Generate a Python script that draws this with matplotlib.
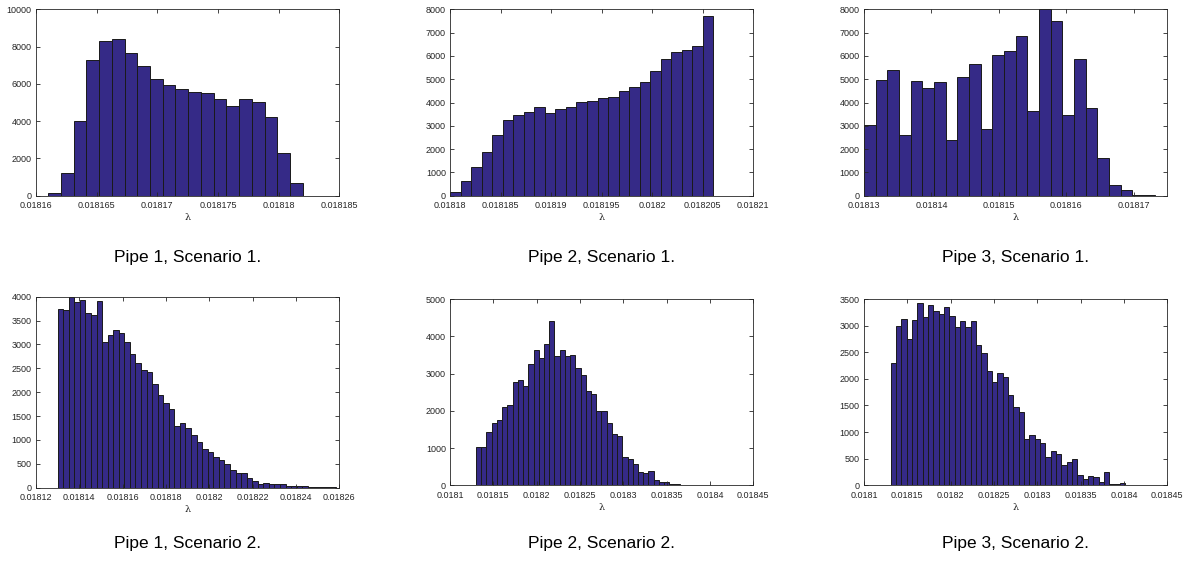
import numpy as np
import matplotlib
matplotlib.use("Agg")
import matplotlib.pyplot as plt

# ---------------- data ----------------
# Pipe 1, Scenario 1
p1s1_start = 0.018161
p1s1_width = 1.05e-6
p1s1_counts = [150, 1200, 4025, 7260, 8320, 8425, 7675, 6960, 6245, 5960,
               5705, 5545, 5510, 5170, 4795, 5190, 5010, 4205, 2310, 680]
p1s1_yticks = [0, 2000, 4000, 6000, 8000, 10000]
p1s1_xticks = [0.01816, 0.018165, 0.01817, 0.018175, 0.01818, 0.018185]
p1s1_xlabels = ["0.01816", "0.018165", "0.01817", "0.018175", "0.01818", "0.018185"]

# Pipe 2, Scenario 1
p2s1_start = 0.01818
p2s1_width = 1.042e-6
p2s1_counts = [170, 645, 1245, 1875, 2620, 3250, 3475, 3590, 3805, 3550,
               3705, 3820, 4020, 4050, 4175, 4235, 4505, 4665, 4880, 5365,
               5865, 6180, 6250, 6410, 7725]
p2s1_yticks = [0, 1000, 2000, 3000, 4000, 5000, 6000, 7000, 8000]
p2s1_xticks = [0.01818, 0.018185, 0.01819, 0.018195, 0.0182, 0.018205, 0.01821]
p2s1_xlabels = ["0.01818", "0.018185", "0.01819", "0.018195", "0.0182", "0.018205", "0.01821"]

# Pipe 3, Scenario 1
p3s1_start = 0.01813
p3s1_width = 1.73e-6
p3s1_counts = [3020, 4980, 5410, 2590, 4905, 4620, 4890, 2405, 5105, 5665,
               2845, 6050, 6225, 6840, 3635, 8000, 7510, 3475, 5865, 3760,
               1600, 445, 245, 45, 15]
p3s1_yticks = [0, 1000, 2000, 3000, 4000, 5000, 6000, 7000, 8000]
p3s1_xticks = [0.01813, 0.01814, 0.01815, 0.01816, 0.01817]
p3s1_xlabels = ["0.01813", "0.01814", "0.01815", "0.01816", "0.01817"]

# Pipe 1, Scenario 2
p1s2_start = 0.01813
p1s2_width = 2.566e-6
p1s2_counts = [3735, 3715, 4000, 3880, 3925, 3665, 3615, 3915, 3055, 3195,
               3300, 3245, 3045, 2800, 2620, 2455, 2415, 2170, 1940, 1775,
               1650, 1285, 1350, 1255, 1095, 955, 800, 745, 635, 580,
               490, 360, 300, 315, 195, 140, 85, 105, 85, 75,
               75, 40, 30, 30, 25, 15, 10, 10, 10, 10]
p1s2_yticks = [0, 500, 1000, 1500, 2000, 2500, 3000, 3500, 4000]
p1s2_xticks = [0.01812, 0.01814, 0.01816, 0.01818, 0.0182, 0.01822, 0.01824, 0.01826]
p1s2_xlabels = ["0.01812", "0.01814", "0.01816", "0.01818", "0.0182", "0.01822", "0.01824", "0.01826"]

# Pipe 2, Scenario 2
p2s2_start = 0.01813
p2s2_width = 6.03e-6
p2s2_counts = [1020, 1030, 1430, 1665, 1745, 2100, 2155, 2780, 2820, 2665,
               3265, 3640, 3415, 3785, 4410, 3470, 3630, 3470, 3490, 3150,
               2970, 2540, 2440, 1990, 1985, 1680, 1370, 1335, 760, 708,
               580, 368, 335, 372, 142, 85, 100, 48, 30, 18,
               12, 8, 6, 5, 5, 5, 5, 5, 5, 5]
p2s2_yticks = [0, 1000, 2000, 3000, 4000, 5000]
p2s2_xticks = [0.0181, 0.01815, 0.0182, 0.01825, 0.0183, 0.01835, 0.0184, 0.01845]
p2s2_xlabels = ["0.0181", "0.01815", "0.0182", "0.01825", "0.0183", "0.01835", "0.0184", "0.01845"]

# Pipe 3, Scenario 2
p3s2_start = 0.0181308
p3s2_width = 6.15e-6
p3s2_counts = [2290, 2995, 3130, 2755, 3100, 3425, 3160, 3380, 3275, 3210,
               3345, 3180, 2975, 3080, 2975, 3080, 2640, 2480, 2140, 1940,
               2115, 2030, 1695, 1470, 1385, 870, 945, 870, 795, 525,
               645, 580, 385, 430, 490, 200, 125, 168, 148, 70,
               255, 20, 20, 40, 15, 15, 5, 5, 5, 15]
p3s2_yticks = [0, 500, 1000, 1500, 2000, 2500, 3000, 3500]
p3s2_xticks = [0.0181, 0.01815, 0.0182, 0.01825, 0.0183, 0.01835, 0.0184, 0.01845]
p3s2_xlabels = ["0.0181", "0.01815", "0.0182", "0.01825", "0.0183", "0.01835", "0.0184", "0.01845"]

captions = ["Pipe 1, Scenario 1.", "Pipe 2, Scenario 1.", "Pipe 3, Scenario 1.",
            "Pipe 1, Scenario 2.", "Pipe 2, Scenario 2.", "Pipe 3, Scenario 2."]
xlabel_text = "λ"

# ---------------- drawing ----------------
BAR = "#352a87"
AX = "#262626"

fig = plt.figure(figsize=(11.95, 5.64), dpi=100)

panels = [
    dict(pos=[0.0301, 0.6530, 0.2538, 0.3305], start=p1s1_start, width=p1s1_width, counts=p1s1_counts,
         xlim=(0.01816, 0.018185), ylim=(0, 10000), yt=p1s1_yticks, xt=p1s1_xticks, xl=p1s1_xlabels),
    dict(pos=[0.3766, 0.6530, 0.2538, 0.3305], start=p2s1_start, width=p2s1_width, counts=p2s1_counts,
         xlim=(0.01818, 0.01821), ylim=(0, 8000), yt=p2s1_yticks, xt=p2s1_xticks, xl=p2s1_xlabels),
    dict(pos=[0.7230, 0.6530, 0.2538, 0.3305], start=p3s1_start, width=p3s1_width, counts=p3s1_counts,
         xlim=(0.01813, 0.018175), ylim=(0, 8000), yt=p3s1_yticks, xt=p3s1_xticks, xl=p3s1_xlabels),
    dict(pos=[0.0301, 0.1353, 0.2538, 0.3387], start=p1s2_start, width=p1s2_width, counts=p1s2_counts,
         xlim=(0.01812, 0.01826), ylim=(0, 4000), yt=p1s2_yticks, xt=p1s2_xticks, xl=p1s2_xlabels),
    dict(pos=[0.3766, 0.1395, 0.2538, 0.3303], start=p2s2_start, width=p2s2_width, counts=p2s2_counts,
         xlim=(0.0181, 0.01845), ylim=(0, 5000), yt=p2s2_yticks, xt=p2s2_xticks, xl=p2s2_xlabels),
    dict(pos=[0.7230, 0.1395, 0.2538, 0.3303], start=p3s2_start, width=p3s2_width, counts=p3s2_counts,
         xlim=(0.0181, 0.01845), ylim=(0, 3500), yt=p3s2_yticks, xt=p3s2_xticks, xl=p3s2_xlabels),
]

caption_y = [0.5426, 0.5426, 0.5426, 0.0355, 0.0355, 0.0355]

for i, p in enumerate(panels):
    ax = fig.add_axes(p["pos"])
    counts = np.array(p["counts"], dtype=float)
    lefts = p["start"] + p["width"] * np.arange(len(counts))
    ax.bar(lefts, counts, width=p["width"], align="edge", color=BAR,
           edgecolor="#1a1a1a", linewidth=0.7)
    ax.set_xlim(*p["xlim"])
    ax.set_ylim(*p["ylim"])
    ax.set_yticks(p["yt"])
    ax.set_yticklabels([str(v) for v in p["yt"]])
    ax.set_xticks(p["xt"])
    ax.set_xticklabels(p["xl"])
    ax.tick_params(direction="in", length=3, width=0.6, colors=AX,
                   labelsize=6.5, top=True, right=True)
    ax.tick_params(axis="x", pad=4)
    ax.tick_params(axis="y", pad=3)
    for lab in ax.get_xticklabels() + ax.get_yticklabels():
        lab.set_family("Liberation Sans")
    for s in ax.spines.values():
        s.set_color(AX)
        s.set_linewidth(0.6)
    ax.set_xlabel(xlabel_text, fontsize=7, color=AX, family="DejaVu Serif", labelpad=2)
    cx = p["pos"][0] + p["pos"][2] / 2
    fig.text(cx, caption_y[i], captions[i], ha="center", va="center",
             fontsize=12.5, family="Liberation Sans", color="black")

fig.savefig("out.png", dpi=100)
